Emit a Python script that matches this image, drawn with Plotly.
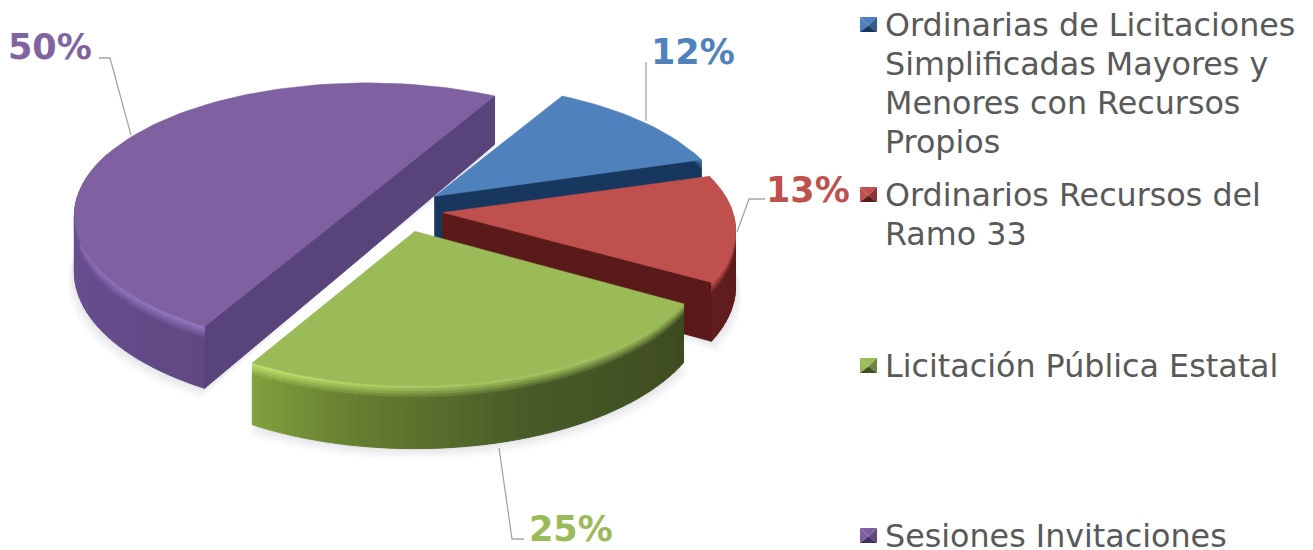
import math
import plotly.graph_objects as go

# ---- data ----
categories = [
    "Ordinarias de Licitaciones Simplificadas Mayores y Menores con Recursos Propios",
    "Ordinarios Recursos del Ramo 33",
    "Licitación Pública Estatal",
    "Sesiones Invitaciones",
]
values = [12, 13, 25, 50]
legend_lines = [
    ["Ordinarias de Licitaciones", "Simplificadas Mayores y", "Menores con Recursos", "Propios"],
    ["Ordinarios Recursos del", "Ramo 33"],
    ["Licitación Pública Estatal"],
    ["Sesiones Invitaciones"],
]
top_colors = ["#4f81bd", "#c0504d", "#9bbb59", "#7f60a0"]
label_colors = ["#4f81bd", "#c0504d", "#9bbb59", "#8064a2"]
cut_colors = ["#17375e", "#5a1a1a", "#3f4f22", "#59437b"]
# rim shading stops: (angle in degrees, colour)
rim_stops = [
    [(-60, "#17375e"), (-10, "#17375e")],
    [(-20, "#5a1a1a"), (30, "#621e1e")],
    [(30, "#3c4c20"), (70, "#495a27"), (100, "#647d30"), (120, "#82a13e")],
    [(120, "#5f4882"), (150, "#664c8c"), (185, "#6b5096"), (300, "#6b5096")],
]
bevel_stops = [
    [(-60, "#4f81bd"), (-10, "#4f81bd")],
    [(-20, "#c0504d"), (30, "#c0504d")],
    [(30, "#9bbb59"), (90, "#a5c75e"), (120, "#bfe26a")],
    [(120, "#9176c0"), (160, "#8a6cb5"), (195, "#7f60a0"), (300, "#7f60a0")],
]

# ---- projection of the tilted pie, all in the page's pixel scale ----
CX, CY = 405, 210
RX, RY = 290, 128
RY_SCALE = [1.03, 1.02, 1.06, 1.04]
PULL_SCALE = [1.0, 1.0, 1.0, 1.15]
PERSPECTIVE = 0.14
DEPTH = 55
PULL_X, PULL_Y = 38, 22
START = -60.0
STEP = 2.0
BANDS = [0, 2.5, 5, 7.5, 10, 13]


def persp(t):
    return 1 + PERSPECTIVE * math.sin(math.radians(t))


def wedge_angles():
    out, a = [], START
    for v in values:
        b = a + v * 3.6
        out.append((a, b))
        a = b
    return out


def apex(i, a, b):
    m = math.radians((a + b) / 2)
    return (CX + PULL_SCALE[i] * PULL_X * math.cos(m),
            CY + PULL_SCALE[i] * PULL_Y * math.sin(m))


def rim_pt(i, ax, ay, t, drop=0.0):
    s = persp(t)
    r = math.radians(t)
    return ax + RX * s * math.cos(r), ay + RY * RY_SCALE[i] * s * math.sin(r) + drop * s


def arc_ts(a, b):
    n = max(2, int(round((b - a) / STEP)))
    return [a + (b - a) * k / n for k in range(n + 1)]


def rgb(h):
    return tuple(int(h[k:k + 2], 16) for k in (1, 3, 5))


def mix(c0, c1, f):
    a, b = rgb(c0), rgb(c1)
    return "#%02x%02x%02x" % tuple(int(round(a[k] + (b[k] - a[k]) * f)) for k in range(3))


def lerp_stops(stops, t):
    if t <= stops[0][0]:
        return stops[0][1]
    for (t0, c0), (t1, c1) in zip(stops, stops[1:]):
        if t <= t1:
            return mix(c0, c1, (t - t0) / (t1 - t0))
    return stops[-1][1]


fig = go.Figure()


def poly(pts, color, lw=1.0, name=None):
    xs = [p[0] for p in pts] + [pts[0][0]]
    ys = [p[1] for p in pts] + [pts[0][1]]
    fig.add_trace(go.Scatter(
        x=xs, y=ys, mode="lines", fill="toself", fillcolor=color,
        line=dict(color=color if lw else "rgba(0,0,0,0)", width=lw),
        hoverinfo="skip" if name is None else "name", name=name or "", showlegend=False,
    ))


angles = wedge_angles()

# soft ground shadow
for grow, alpha in [(11, 0.035), (8, 0.04), (5, 0.05), (2, 0.06)]:
    for i, (a, b) in enumerate(angles):
        ax, ay = apex(i, a, b)
        pts = [(ax, ay + DEPTH)]
        for t in arc_ts(a, b):
            x, y = rim_pt(i, ax, ay, t, DEPTH)
            pts.append((x + grow * 0.6 * math.cos(math.radians(t)), y + grow))
        poly(pts, "rgba(110,110,135,%.3f)" % alpha, lw=0)

# slices, back to front
for i, (a, b) in enumerate(angles):
    ax, ay = apex(i, a, b)
    mx, my = rim_pt(i, ax, ay, (a + b) / 2)
    # cut faces that look towards the viewer
    for t in (a, b):
        ex, ey = rim_pt(i, ax, ay, t)
        nx, ny = -(ey - ay), ex - ax
        if nx * (mx - ax) + ny * (my - ay) > 0:
            nx, ny = -nx, -ny
        if ny > 0:
            ex2, ey2 = rim_pt(i, ax, ay, t, DEPTH)
            poly([(ax, ay), (ex, ey), (ex2, ey2), (ax, ay + DEPTH)], cut_colors[i])
    # outer rim: side shading, then a soft lit bevel at its upper edge
    ts = arc_ts(a, b)
    for t0, t1 in zip(ts, ts[1:]):
        tm = (t0 + t1) / 2
        if math.sin(math.radians(tm)) < -0.35:
            continue
        side = lerp_stops(rim_stops[i], tm)
        bevel = lerp_stops(bevel_stops[i], tm)
        poly([rim_pt(i, ax, ay, t0, BANDS[-1]), rim_pt(i, ax, ay, t1, BANDS[-1]),
              rim_pt(i, ax, ay, t1, DEPTH), rim_pt(i, ax, ay, t0, DEPTH)], side)
        for k, (d0, d1) in enumerate(zip(BANDS, BANDS[1:])):
            poly([rim_pt(i, ax, ay, t0, d0), rim_pt(i, ax, ay, t1, d0),
                  rim_pt(i, ax, ay, t1, d1), rim_pt(i, ax, ay, t0, d1)],
                 mix(bevel, side, k / (len(BANDS) - 2)), lw=0.8)
    # top face
    poly([(ax, ay)] + [rim_pt(i, ax, ay, t) for t in ts], top_colors[i], lw=0.5, name=categories[i])

# leader lines and percentage labels
LEADERS = [
    [(646, 62), (646, 121)],
    [(737, 232), (749, 199), (765, 199)],
    [(499, 448), (512, 539), (524, 539)],
    [(99, 58), (110, 58), (131, 135)],
]
LABEL_POS = [(693, 52), (808, 190), (571, 529), (50, 47)]
for pts in LEADERS:
    fig.add_trace(go.Scatter(x=[p[0] for p in pts], y=[p[1] for p in pts], mode="lines",
                             line=dict(color="#a6a6a6", width=1.3), hoverinfo="skip", showlegend=False))
annotations = []
for v, c, (x, y) in zip(values, label_colors, LABEL_POS):
    annotations.append(dict(x=x, y=y, text=f"<b>{v}%</b>", showarrow=False, xanchor="center", yanchor="middle",
                            font=dict(family="DejaVu Sans", size=35, color=c)))

# legend drawn to the reference's uneven spacing
LEGEND_Y = [25, 195, 366, 536]
LINE_PITCH = 39
shapes = []
swatch_dark = ["#17375e", "#5a1a1a", "#3f4f22", "#3f2f5e"]
for i, lines in enumerate(legend_lines):
    y0 = LEGEND_Y[i]
    for j, line in enumerate(lines):
        annotations.append(dict(x=883, y=y0 + j * LINE_PITCH, text=line, showarrow=False,
                                xanchor="left", yanchor="middle",
                                font=dict(family="DejaVu Sans", size=31.75, color="#595959")))
    l, r, t, b = 860, 877, y0 - 8, y0 + 7
    cx_, cy_ = (l + r) / 2, (t + b) / 2 + 1
    tris = [
        (f"M{l},{t}L{r},{t}L{cx_},{cy_}Z", top_colors[i]),
        (f"M{l},{t}L{l},{b}L{cx_},{cy_}Z", top_colors[i]),
        (f"M{r},{t}L{r},{b}L{cx_},{cy_}Z", mix(top_colors[i], swatch_dark[i], 0.5)),
        (f"M{l},{b}L{r},{b}L{cx_},{cy_}Z", swatch_dark[i]),
    ]
    for path, col in tris:
        shapes.append(dict(type="path", path=path, fillcolor=col, line=dict(width=0), layer="above"))

fig.update_layout(
    width=1313, height=550, margin=dict(l=0, r=0, t=0, b=0),
    paper_bgcolor="white", plot_bgcolor="white", showlegend=False,
    xaxis=dict(range=[0, 1313], visible=False, fixedrange=True),
    yaxis=dict(range=[550, 0], visible=False, fixedrange=True),
    annotations=annotations, shapes=shapes,
)
fig.write_html("out.html", config={"displayModeBar": False},
               post_script="document.body.style.margin='0';document.body.style.overflow='hidden';")
